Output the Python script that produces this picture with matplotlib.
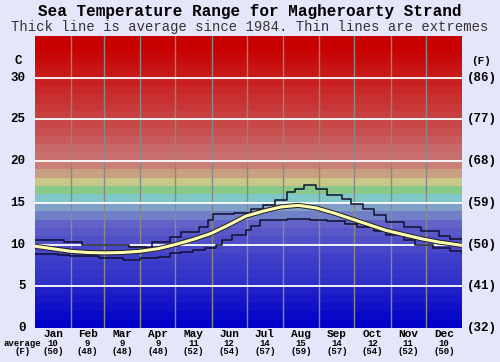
import matplotlib
matplotlib.use("Agg")
import matplotlib.pyplot as plt
import matplotlib.patheffects as pe

# data
months = ["Jan", "Feb", "Mar", "Apr", "May", "Jun", "Jul", "Aug", "Sep", "Oct", "Nov", "Dec"]
month_days = [31, 28, 31, 30, 31, 30, 31, 31, 30, 31, 30, 31]
avg_c = [10, 9, 9, 9, 11, 12, 14, 15, 14, 12, 11, 10]
avg_f = [50, 48, 48, 48, 52, 54, 57, 59, 57, 54, 52, 50]

avg_days = [0, 15, 30, 45, 60, 75, 90, 105, 120, 135, 150, 165, 180, 195, 210,
            225, 240, 255, 270, 285, 300, 315, 330, 345, 360, 365]
avg_temp = [9.8, 9.5, 9.2, 9.05, 9.0, 9.05, 9.2, 9.5, 10.0, 10.6, 11.3, 12.3, 13.4, 14.0, 14.5,
            14.7, 14.4, 13.8, 13.1, 12.4, 11.7, 11.2, 10.7, 10.3, 10.0, 9.9]

max_days = [0, 15, 25, 40, 60, 80, 95, 100, 115, 125, 140, 148, 152, 170, 185, 195,
            205, 215, 222, 230, 240, 250, 262, 270, 280, 290, 300, 315, 330, 345, 355, 365]
max_temp = [10.6, 10.5, 10.3, 10.0, 9.9, 9.7, 9.6, 10.3, 10.9, 11.5, 12.1, 12.9, 13.7, 13.8, 14.3, 14.8,
            15.3, 16.3, 16.7, 17.1, 16.7, 15.9, 15.5, 14.9, 14.3, 13.6, 12.7, 12.1, 11.6, 11.0, 10.7, 10.5]

min_days = [0, 20, 30, 55, 75, 90, 105, 115, 125, 135, 145, 155, 160, 168, 180, 185, 192,
            215, 235, 250, 265, 275, 290, 300, 315, 325, 340, 355, 365]
min_temp = [8.9, 8.7, 8.6, 8.4, 8.2, 8.4, 8.5, 9.0, 9.1, 9.3, 9.6, 9.9, 10.5, 11.1, 11.7, 12.2, 12.9,
            13.1, 13.0, 12.8, 12.5, 12.1, 11.6, 11.1, 10.5, 9.9, 9.6, 9.2, 9.0]

c_ticks = [0, 5, 10, 15, 20, 25, 30]
f_ticks = [32, 41, 50, 59, 68, 77, 86]

# one colour per 1-degree band, 0..35 C
band_colors = [
    "#0000c8", "#0808c8", "#1010c8", "#1818c8", "#2020c8",
    "#3030c8", "#3434c8", "#3a3ac8", "#4040c8", "#4848c8",
    "#5050c8", "#5858c8", "#6262c8", "#7080c8", "#80a0c8",
    "#80c8c8", "#88c888", "#c8c888", "#c8a080", "#c88078",
    "#c87070", "#c86868", "#c85c5c", "#c85050", "#c84848",
    "#c84040", "#c83838", "#c83030", "#c82828", "#c82020",
    "#c81818", "#c81010", "#c80808", "#c80000", "#c80000",
]

mono = "Liberation Mono"
bg = "#e6e6fa"

fig = plt.figure(figsize=(5.0, 3.62), dpi=100, facecolor=bg)
ax = fig.add_axes([0.07, 0.094, 0.854, 0.8066])
ax.set_xlim(0, 365)
ax.set_ylim(0, 35)

for i, col in enumerate(band_colors):
    ax.axhspan(i, i + 1, color=col, lw=0, zorder=0)

bounds = [sum(month_days[:i]) for i in range(13)]
for b in bounds[1:-1]:
    ax.axvline(b, color="#888888", lw=1.0, zorder=1)
for t in c_ticks[1:]:
    ax.axhline(t, color="white", lw=1.3, zorder=2)

ax.plot(max_days, max_temp, drawstyle="steps-post", color="#101030", lw=1.1, zorder=3)
ax.plot(min_days, min_temp, drawstyle="steps-post", color="#101030", lw=1.1, zorder=3)
ax.plot(avg_days, avg_temp, color="#ffffb0", lw=2.2, zorder=4,
        path_effects=[pe.Stroke(linewidth=3.6, foreground="#202020"), pe.Normal()])

for s in ax.spines.values():
    s.set_visible(False)
ax.set_xticks([])
ax.set_yticks([])

# left celsius and right fahrenheit labels
for c, f in zip(c_ticks, f_ticks):
    ax.text(-8, c, str(c), ha="right", va="center", fontsize=9, family=mono, fontweight="bold")
    ax.text(369, c, f"({f})", ha="left", va="center", fontsize=9, family=mono, fontweight="bold")
ax.text(-11, 32, "C", ha="right", va="center", fontsize=9, family=mono, fontweight="bold")
ax.text(381, 32, "(F)", ha="center", va="center", fontsize=8, family=mono, fontweight="bold")

# month labels and monthly averages
for i, m in enumerate(months):
    mid = (bounds[i] + bounds[i + 1]) / 2
    ax.text(mid, -0.75, m, ha="center", va="center", fontsize=8, family=mono, fontweight="bold")
    ax.text(mid, -1.9, str(avg_c[i]), ha="center", va="center", fontsize=6.5, family=mono, fontweight="bold")
    ax.text(mid, -2.85, f"({avg_f[i]})", ha="center", va="center", fontsize=6.5, family=mono, fontweight="bold")
ax.text(-11, -1.9, "average", ha="center", va="center", fontsize=6.5, family=mono, fontweight="bold")
ax.text(-11, -2.85, "(F)", ha="center", va="center", fontsize=6.5, family=mono, fontweight="bold")

fig.text(0.5, 0.967, "Sea Temperature Range for Magheroarty Strand", ha="center", va="center",
         fontsize=11.5, family=mono, fontweight="bold")
fig.text(0.5, 0.925, "Thick line is average since 1984. Thin lines are extremes", ha="center",
         va="center", fontsize=10, family=mono, color="#333333")

fig.savefig("out.png", dpi=100, facecolor=bg)
